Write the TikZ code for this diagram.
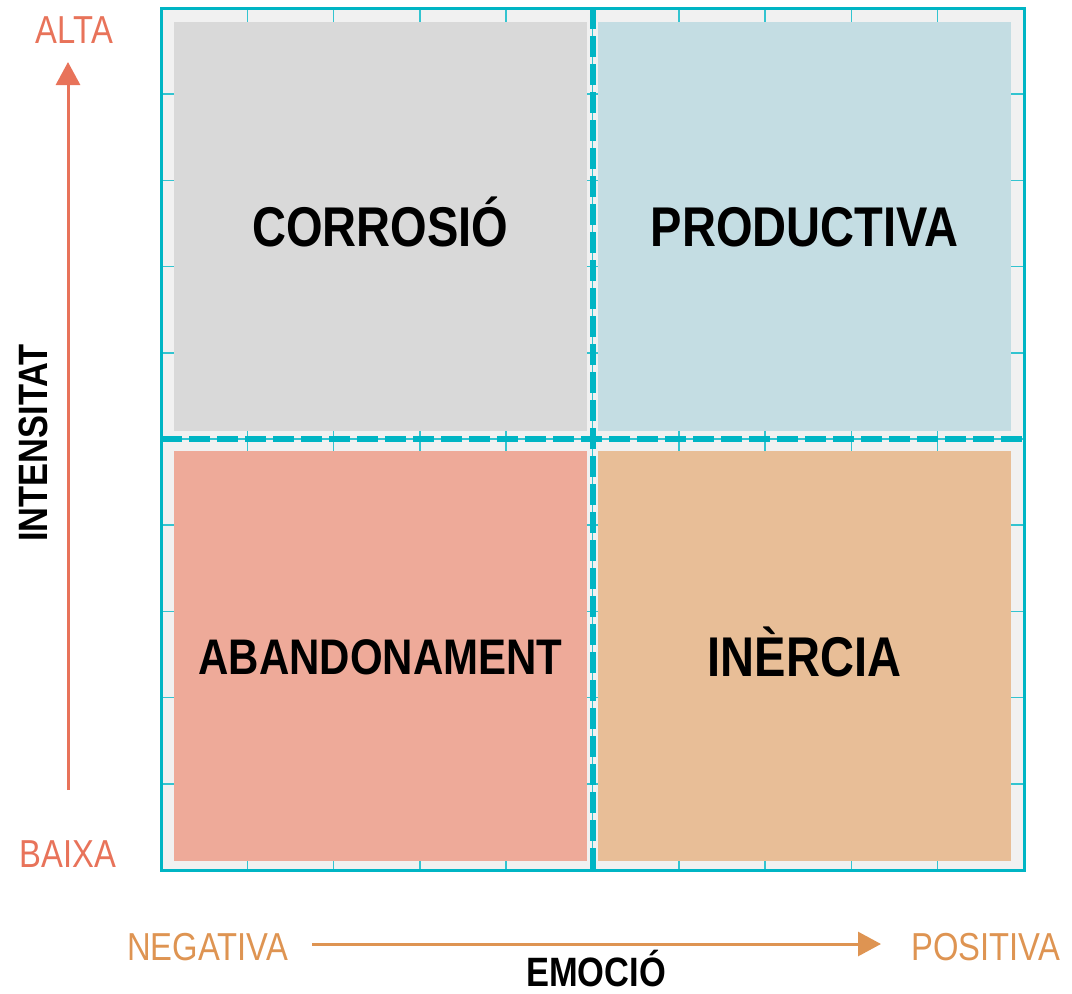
\documentclass[tikz,border=0pt]{standalone}
\usepackage{fontspec}
\usetikzlibrary{arrows.meta}
\newfontfamily\cond[FakeStretch=0.84]{Liberation Sans}
\definecolor{teal}{HTML}{00B5C4}
\definecolor{bgframe}{HTML}{F1F1F1}
\definecolor{qgray}{HTML}{D9D9D9}
\definecolor{qblue}{HTML}{C4DDE3}
\definecolor{qsalmon}{HTML}{EEAA99}
\definecolor{qtan}{HTML}{E8BE97}
\definecolor{vred}{HTML}{E8735A}
\definecolor{horange}{HTML}{DE9452}
\tikzset{
  quad/.style={inner sep=0pt, minimum width=413pt, minimum height=409pt,
    font=\cond\bfseries\fontsize{56}{60}\selectfont, text height=40pt, text depth=0pt},
  quadsmall/.style={font=\cond\bfseries\fontsize{50}{54}\selectfont, text height=36pt},
  gridline/.style={teal!80, line width=1.5pt},
  divider/.style={teal, line width=6.5pt, dash pattern=on 21pt off 7pt},
  vlabel/.style={inner sep=0pt, anchor=base, text=vred, font=\cond\fontsize{39}{42}\selectfont},
  hlabel/.style={inner sep=0pt, anchor=base, text=horange, font=\cond\fontsize{39}{42}\selectfont},
  axtitle/.style={inner sep=0pt, font=\cond\bfseries\fontsize{41}{44}\selectfont},
  axarrow/.style={line width=3pt, -{Triangle[length=23pt,width=24pt]}}
}
\begin{document}
\begin{tikzpicture}[x=1pt,y=-1pt]
\useasboundingbox (0,0) rectangle (1072,994);
% frame background
\fill[bgframe] (161,8) rectangle (1024,870);
% grid
\foreach \k in {1,...,9} {
  \draw[gridline] (161+86.3*\k,8) -- (161+86.3*\k,870);
  \draw[gridline] (161,8+86.2*\k) -- (1024,8+86.2*\k);
}
\draw[teal, line width=3pt] (161,8) rectangle (1024,870);
% quadrants
\node[quad, fill=qgray] (tl) at (380.5,226) {CORROSIÓ};
\node[quad, fill=qblue] (tr) at (804.5,226) {PRODUCTIVA};
\node[quad, fill=qsalmon, minimum height=410pt, quadsmall] (bl) at (380.5,656) {ABANDONAMENT};
\node[quad, fill=qtan, minimum height=410pt] (br) at (804.5,656) {INÈRCIA};
% dividers
\coordinate (hdL) at (161,439);
\coordinate (hdR) at (1024,439);
\coordinate (vdT) at (593,8);
\coordinate (vdB) at (593,870);
\draw[divider] (hdL) -- (hdR);
\draw[divider] (vdT) -- (vdB);
% vertical axis
\coordinate (vS) at (68,790);
\coordinate (vE) at (68,62);
\draw[axarrow, vred] (vS) -- (vE);
\node[vlabel] (alta) at (74.5,43) {ALTA};
\node[vlabel] (baixa) at (68,867) {BAIXA};
\node[axtitle, rotate=90, text height=29pt, text depth=0pt] (intens) at (33,443) {INTENSITAT};
% horizontal axis
\coordinate (hS) at (312,944);
\coordinate (hE) at (881,944);
\draw[axarrow, horange] (hS) -- (hE);
\node[hlabel] (neg) at (207.5,960) {NEGATIVA};
\node[hlabel] (pos) at (985.5,960) {POSITIVA};
\node[axtitle, anchor=base, text depth=0pt] (emocio) at (596,986) {EMOCIÓ};
\end{tikzpicture}
\end{document}
